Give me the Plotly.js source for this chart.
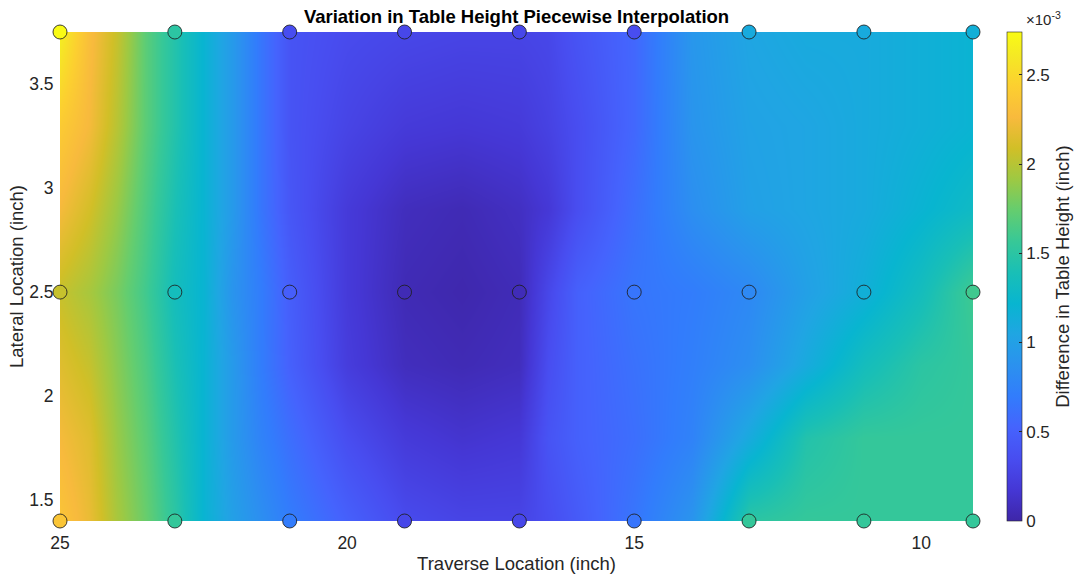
<!DOCTYPE html>
<html>
<head>
<meta charset="utf-8">
<script src="https://cdn.plot.ly/plotly-3.0.1.min.js"></script>
<style>html,body{margin:0;padding:0;background:#fff;}#chart{width:1080px;height:577px;}</style>
</head>
<body>
<div id="chart"></div>
<script>
// Values are in units of 1e-3 inch (colorbar shows ×10^-3)
const traverseGrid = [25, 24.5, 24, 23.5, 23, 22.5, 22, 21.5, 21, 20, 19, 18, 17, 16.5, 16, 15, 14, 13, 12, 11, 10, 9.1];
const lateralGrid = [1.4, 1.8, 2.15, 2.5, 2.9, 3.3, 3.75];

const surf_140 = [2.35, 2.2, 1.95, 1.75, 1.5, 1.2, 1.0, 0.85, 0.7, 0.5, 0.33, 0.28, 0.28, 0.35, 0.45, 0.65, 0.9, 1.5, 1.55, 1.55, 1.55, 1.55];
const surf_180 = [2.25, 2.15, 1.9, 1.7, 1.45, 1.2, 0.95, 0.75, 0.6, 0.35, 0.2, 0.15, 0.18, 0.4, 0.5, 0.6, 0.75, 1.1, 1.45, 1.55, 1.55, 1.55];
const surf_215 = [2.15, 2.05, 1.85, 1.65, 1.4, 1.2, 0.95, 0.7, 0.5, 0.22, 0.08, 0.05, 0.08, 0.35, 0.5, 0.62, 0.72, 0.85, 1.1, 1.35, 1.5, 1.55];
const surf_250 = [2.05, 1.95, 1.8, 1.6, 1.35, 1.2, 0.9, 0.7, 0.48, 0.2, 0.05, 0.02, 0.06, 0.3, 0.5, 0.65, 0.7, 0.8, 1.0, 1.15, 1.35, 1.6];
const surf_290 = [2.25, 2.1, 1.9, 1.65, 1.4, 1.2, 0.95, 0.65, 0.42, 0.2, 0.08, 0.05, 0.1, 0.18, 0.35, 0.6, 0.85, 1.0, 1.05, 1.1, 1.2, 1.3];
const surf_330 = [2.4, 2.25, 2.0, 1.7, 1.45, 1.2, 0.95, 0.65, 0.4, 0.28, 0.2, 0.18, 0.2, 0.26, 0.35, 0.55, 0.9, 1.02, 1.05, 1.1, 1.15, 1.2];
const surf_375 = [2.65, 2.3, 2.05, 1.7, 1.45, 1.2, 0.95, 0.65, 0.4, 0.33, 0.3, 0.28, 0.28, 0.3, 0.4, 0.55, 0.92, 1.05, 1.1, 1.1, 1.15, 1.2];

const nodeX = [25, 23, 21, 19, 17, 15, 13, 11, 9.1];
const nodeRows = [1.4, 2.5, 3.75];
const node_140 = [2.35, 1.55, 0.7, 0.3, 0.3, 0.65, 1.55, 1.55, 1.55];
const node_250 = [2.05, 1.35, 0.48, 0.05, 0.06, 0.65, 0.8, 1.15, 1.6];
const node_375 = [2.74, 1.5, 0.35, 0.3, 0.3, 0.35, 1.1, 1.1, 1.15];

const cbTickVals = [0, 0.5, 1, 1.5, 2, 2.5];
const cbTickText = ['0', '0.5', '1', '1.5', '2', '2.5'];
const cMax = 2.74;

// parula colormap
const parulaRows = [
  [0, [62,38,168]], [4, [69,55,213]], [8, [72,77,240]], [12, [69,99,253]],
  [16, [50,124,252]], [20, [43,145,239]], [24, [32,165,227]], [28, [8,181,208]],
  [32, [25,191,182]], [36, [55,200,151]], [40, [100,205,111]], [44, [157,201,67]],
  [48, [209,191,39]], [52, [248,186,61]], [56, [252,207,48]], [60, [245,233,36]], [63, [249,251,21]]
];
const parula = parulaRows.map(r => [r[0] / 63, 'rgb(' + r[1].join(',') + ')']);

const zGrid = [surf_140, surf_180, surf_215, surf_250, surf_290, surf_330, surf_375];
const nodeVals = [node_140, node_250, node_375];

const fontFam = 'Liberation Sans, Arial, sans-serif';
const txt = '#262626';

const heat = {
  type: 'heatmap',
  x: traverseGrid, y: lateralGrid, z: zGrid,
  zsmooth: 'best',
  colorscale: parula, zmin: 0, zmax: cMax,
  hoverinfo: 'skip',
  colorbar: {
    x: 1.037, xanchor: 'left', xref: 'paper',
    y: 0.5, yanchor: 'middle', len: 1, lenmode: 'fraction',
    thickness: 15, outlinewidth: 0.6, outlinecolor: txt, xpad: 0, ypad: 0,
    tickvals: cbTickVals, ticktext: cbTickText,
    ticks: 'inside', ticklen: 3, tickcolor: txt,
    tickfont: {family: fontFam, size: 17, color: txt},
    title: {text: 'Difference in Table Height (inch)', side: 'right',
            font: {family: fontFam, size: 18.5, color: txt}}
  }
};

const nodeTraces = nodeRows.map((yv, i) => ({
  type: 'scatter', mode: 'markers',
  x: nodeX, y: nodeX.map(() => yv),
  cliponaxis: false, hoverinfo: 'skip', showlegend: false,
  marker: {
    size: 14, color: nodeVals[i], colorscale: parula, cmin: 0, cmax: cMax, showscale: false,
    line: {color: 'rgba(30,30,30,0.85)', width: 1}
  }
}));

const layout = {
  width: 1080, height: 577,
  margin: {l: 60, r: 107, t: 32, b: 56, autoexpand: false},
  paper_bgcolor: '#fff', plot_bgcolor: '#fff',
  showlegend: false,
  title: {text: '<b>Variation in Table Height Piecewise Interpolation</b>',
          x: 0.5, xref: 'paper', xanchor: 'center', y: 1 - 17/577, yref: 'container', yanchor: 'middle',
          font: {family: fontFam, size: 18.5, color: '#000'}},
  xaxis: {
    range: [25, 9.1], tickvals: [25, 20, 15, 10], showgrid: false, zeroline: false,
    ticks: 'outside', ticklen: 6, tickcolor: 'rgba(0,0,0,0)',
    tickfont: {family: fontFam, size: 17.5, color: txt},
    title: {text: 'Traverse Location (inch)', standoff: 5, font: {family: fontFam, size: 18.5, color: txt}},
    showline: false, automargin: false
  },
  yaxis: {
    range: [1.4, 3.75], tickvals: [1.5, 2, 2.5, 3, 3.5], showgrid: false, zeroline: false,
    ticks: 'outside', ticklen: 2, tickcolor: 'rgba(0,0,0,0)',
    tickfont: {family: fontFam, size: 17.5, color: txt},
    title: {text: 'Lateral Location (inch)', standoff: 0, font: {family: fontFam, size: 18.5, color: txt}},
    showline: false, automargin: false
  },
  annotations: [{
    text: '×10<sup>-3</sup>', xref: 'paper', yref: 'paper',
    x: (1043 - 60) / 913, y: 1 + 14 / 489,
    xanchor: 'center', yanchor: 'middle', showarrow: false,
    font: {family: fontFam, size: 15, color: txt}
  }]
};

Plotly.newPlot('chart', [heat].concat(nodeTraces), layout, {staticPlot: true, displayModeBar: false});
</script>
</body>
</html>
